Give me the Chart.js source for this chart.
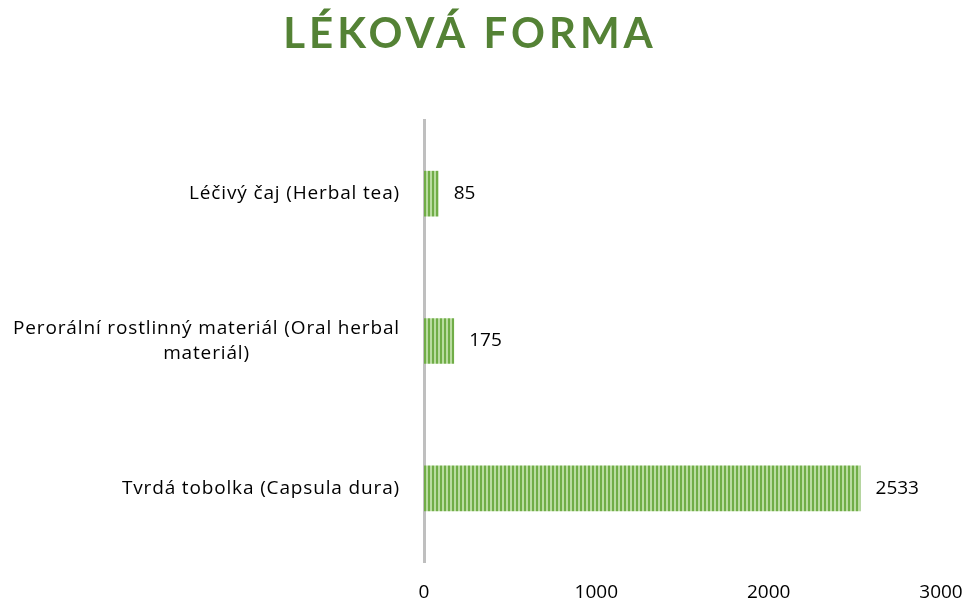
<!DOCTYPE html>
<html lang="cs">
<head>
<meta charset="UTF-8">
<title>Léková forma</title>
<script src="https://cdn.jsdelivr.net/npm/chart.js@4/dist/chart.umd.min.js"></script>
<style>
  html, body { margin: 0; padding: 0; background: #fff; }
  #wrap { width: 972px; height: 607px; }
</style>
</head>
<body>
<div id="wrap"><canvas id="chart" width="972" height="607"></canvas></div>
<script>
const title = 'LÉKOVÁ FORMA';
const categories = [
  ['Léčivý čaj (Herbal tea)'],
  ['Perorální rostlinný materiál (Oral herbal', 'materiál)'],
  ['Tvrdá tobolka (Capsula dura)']
];
const values = [85, 175, 2533];
const xTicks = [0, 1000, 2000, 3000];

const FONT = '"Open Sans", Lato, sans-serif';
const TITLE_FONT = 'Lato, "Open Sans", sans-serif';

// svisle pruhovaná výplň sloupců
function stripes() {
  const c = document.createElement('canvas');
  c.width = 4; c.height = 1;
  const g = c.getContext('2d');
  g.fillStyle = '#b9dca0'; g.fillRect(0, 0, 4, 1);
  g.fillStyle = '#70ad47'; g.fillRect(0, 0, 2, 1);
  return g.createPattern(c, 'repeat');
}

const titlePlugin = {
  id: 'titlePlugin',
  afterDraw(chart) {
    const ctx = chart.ctx;
    ctx.save();
    ctx.font = 'bold 42px ' + TITLE_FONT;
    ctx.fillStyle = '#548235';
    ctx.letterSpacing = '4px';
    ctx.textAlign = 'center';
    ctx.textBaseline = 'middle';
    ctx.fillText(title, 470, 34);
    ctx.restore();
  }
};

// popisky kategorií: jednořádkové zarovnané doprava, víceřádkové na střed
const catLabels = {
  id: 'catLabels',
  afterDraw(chart) {
    const ctx = chart.ctx;
    const y = chart.scales.y;
    const right = chart.chartArea.left - 24;
    ctx.save();
    ctx.font = '19px ' + FONT;
    ctx.letterSpacing = '0.85px';
    ctx.fillStyle = '#000';
    ctx.textBaseline = 'middle';
    categories.forEach((lines, i) => {
      const cy = y.getPixelForTick(i);
      const lh = 25;
      const w = Math.max(...lines.map(l => ctx.measureText(l).width));
      lines.forEach((l, j) => {
        const ly = cy + (j - (lines.length - 1) / 2) * lh;
        if (lines.length > 1) {
          ctx.textAlign = 'center';
          ctx.fillText(l, right - w / 2, ly);
        } else {
          ctx.textAlign = 'right';
          ctx.fillText(l, right, ly);
        }
      });
    });
    ctx.restore();
  }
};

const valueLabels = {
  id: 'valueLabels',
  afterDatasetsDraw(chart) {
    const ctx = chart.ctx;
    const meta = chart.getDatasetMeta(0);
    ctx.save();
    ctx.font = '19px ' + FONT;
    ctx.fillStyle = '#000';
    ctx.textAlign = 'left';
    ctx.textBaseline = 'middle';
    meta.data.forEach((bar, i) => {
      ctx.fillText(String(values[i]), bar.x + 15, bar.y);
    });
    ctx.restore();
  }
};

new Chart(document.getElementById('chart'), {
  type: 'bar',
  data: {
    labels: categories,
    datasets: [{
      data: values,
      backgroundColor: stripes(),
      borderWidth: 0,
      barPercentage: 0.31,
      categoryPercentage: 1
    }]
  },
  options: {
    indexAxis: 'y',
    responsive: false,
    animation: false,
    layout: { padding: { top: 120, right: 31, bottom: 0, left: 0 } },
    plugins: { legend: { display: false }, tooltip: { enabled: false } },
    scales: {
      x: {
        min: 0, max: 3000,
        afterBuildTicks(s) { s.ticks = xTicks.map(v => ({ value: v })); },
        afterFit(s) { s.height = 45; s.paddingLeft = 0; s.paddingRight = 0; },
        grid: { display: false, drawTicks: false },
        border: { display: false },
        ticks: {
          color: '#000', font: { family: FONT, size: 19 }, padding: 19,
          callback: v => String(v)
        }
      },
      y: {
        grid: { display: false, drawTicks: false },
        border: { color: '#bfbfbf', width: 3 },
        ticks: { display: false },
        afterFit(s) { s.width = 424; }
      }
    }
  },
  plugins: [titlePlugin, catLabels, valueLabels]
});
</script>
</body>
</html>
